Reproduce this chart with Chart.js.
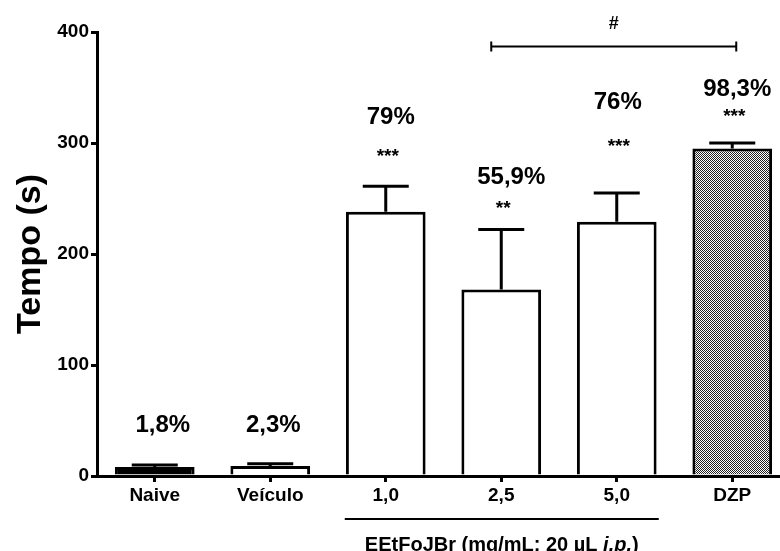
<!DOCTYPE html>
<html>
<head>
<meta charset="utf-8">
<script src="https://cdn.jsdelivr.net/npm/chart.js@4"></script>
<style>
  html, body { margin: 0; padding: 0; background: #fff; overflow: hidden; }
  #wrap { width: 800px; height: 551px; }
</style>
</head>
<body>
<div id="wrap"><canvas id="myChart" width="800" height="551"></canvas></div>
<script>
// values
const categories = ['Naive', 'Veículo', '1,0', '2,5', '5,0', 'DZP'];
const means = [8, 9, 238, 168, 229, 295];
const sem = [2, 2, 23, 54, 26, 5];
const percentLabels = ['1,8%', '2,3%', '79%', '55,9%', '76%', '98,3%'];
const stars = ['', '', '***', '**', '***', '***'];
const yTicks = [0, 100, 200, 300, 400];

const FONT = "'Liberation Sans', Arial, sans-serif";

// fine checker pattern for DZP bar
function makePattern() {
  const c = document.createElement('canvas');
  c.width = 2; c.height = 2;
  const g = c.getContext('2d');
  g.fillStyle = '#fff';
  g.fillRect(0, 0, 2, 2);
  g.fillStyle = '#222';
  g.fillRect(0, 0, 1, 1);
  g.fillRect(1, 1, 1, 1);
  return document.getElementById('myChart').getContext('2d').createPattern(c, 'repeat');
}
const pat = makePattern();
const fills = ['#000', '#fff', '#fff', '#fff', '#fff', pat];

// label positions (in axis units) and small x nudges, layout only
const pctY = [46, 46, 323, 269, 337, 348];
const starY = [0, 0, 291, 244, 300, 327];
const pctDx = [8, 3, 5, 10, 1, 5];

const extras = {
  id: 'extras',
  afterDatasetsDraw(chart) {
    const ctx = chart.ctx;
    const x = chart.scales.x, y = chart.scales.y;
    ctx.save();
    ctx.strokeStyle = '#000';
    ctx.fillStyle = '#000';
    // error bars (upper only)
    ctx.lineWidth = 3;
    for (let i = 0; i < means.length; i++) {
      const cx = x.getPixelForValue(i);
      const top = y.getPixelForValue(means[i] + sem[i]);
      const base = y.getPixelForValue(means[i]);
      ctx.beginPath();
      ctx.moveTo(cx, base);
      ctx.lineTo(cx, top);
      ctx.moveTo(cx - 23, top);
      ctx.lineTo(cx + 23, top);
      ctx.stroke();
    }
    // percentages and stars
    ctx.textAlign = 'center';
    ctx.textBaseline = 'middle';
    for (let i = 0; i < means.length; i++) {
      const cx = x.getPixelForValue(i);
      ctx.font = 'bold 24px ' + FONT;
      ctx.fillText(percentLabels[i], cx + pctDx[i], y.getPixelForValue(pctY[i]));
      if (stars[i]) {
        ctx.font = 'bold 19px ' + FONT;
        ctx.fillText(stars[i], cx + 2, y.getPixelForValue(starY[i]) + 4);
      }
    }
    // bracket 2,5 -> DZP with #
    const bx1 = x.getPixelForValue(3) - 10, bx2 = x.getPixelForValue(5) + 4;
    const by = y.getPixelForValue(387);
    ctx.lineWidth = 2;
    ctx.beginPath();
    ctx.moveTo(bx1, by); ctx.lineTo(bx2, by);
    ctx.moveTo(bx1, by - 5); ctx.lineTo(bx1, by + 5);
    ctx.moveTo(bx2, by - 5); ctx.lineTo(bx2, by + 5);
    ctx.stroke();
    ctx.font = 'bold 18px ' + FONT;
    ctx.fillText('#', (bx1 + bx2) / 2, by - 22);
    // group line and title under x axis
    const gx1 = x.getPixelForValue(2) - 41, gx2 = x.getPixelForValue(4) + 42;
    const gy = y.bottom + 43;
    ctx.beginPath();
    ctx.moveTo(gx1, gy); ctx.lineTo(gx2, gy);
    ctx.stroke();
    const parts = [['EEtFoJBr (mg/mL; 20 µL ', 'bold'], ['i.p.', 'italic bold'], [')', 'bold']];
    let total = 0;
    parts.forEach(p => { ctx.font = p[1] + ' 20px ' + FONT; total += ctx.measureText(p[0]).width; });
    let tx = (gx1 + gx2) / 2 - total / 2;
    ctx.textAlign = 'left';
    parts.forEach(p => {
      ctx.font = p[1] + ' 20px ' + FONT;
      ctx.fillText(p[0], tx, y.bottom + 69);
      tx += ctx.measureText(p[0]).width;
    });
    ctx.restore();
  }
};

new Chart(document.getElementById('myChart'), {
  type: 'bar',
  data: {
    labels: categories,
    datasets: [{
      data: means,
      backgroundColor: fills,
      borderColor: '#000',
      borderWidth: 3,
      borderSkipped: 'start',
      categoryPercentage: 1,
      barPercentage: 0.69
    }]
  },
  options: {
    responsive: false,
    animation: false,
    events: [],
    layout: { padding: { top: 32, right: 10, bottom: 0, left: 0 } },
    plugins: { legend: { display: false }, tooltip: { enabled: false } },
    scales: {
      x: {
        afterFit(s) { s.height = 75; },
        border: { color: '#000', width: 3 },
        grid: { display: true, drawOnChartArea: false, drawTicks: true, tickLength: 6, color: '#000', lineWidth: 3, offset: false },
        ticks: { color: '#000', font: { family: FONT, weight: 'bold', size: 19 }, padding: 2 }
      },
      y: {
        min: 0, max: 400,
        afterFit(s) { s.width = 97; },
        afterBuildTicks(s) { s.ticks = yTicks.map(v => ({ value: v })); },
        border: { color: '#000', width: 3 },
        grid: { display: true, drawOnChartArea: false, drawTicks: true, tickLength: 6, color: '#000', lineWidth: 3 },
        ticks: { color: '#000', font: { family: FONT, weight: 'bold', size: 19 }, padding: 2 },
        title: { display: true, text: 'Tempo (s)', color: '#000', font: { family: FONT, weight: 'bold', size: 34 }, padding: { top: 10, bottom: 0 } }
      }
    }
  },
  plugins: [extras]
});
</script>
</body>
</html>
